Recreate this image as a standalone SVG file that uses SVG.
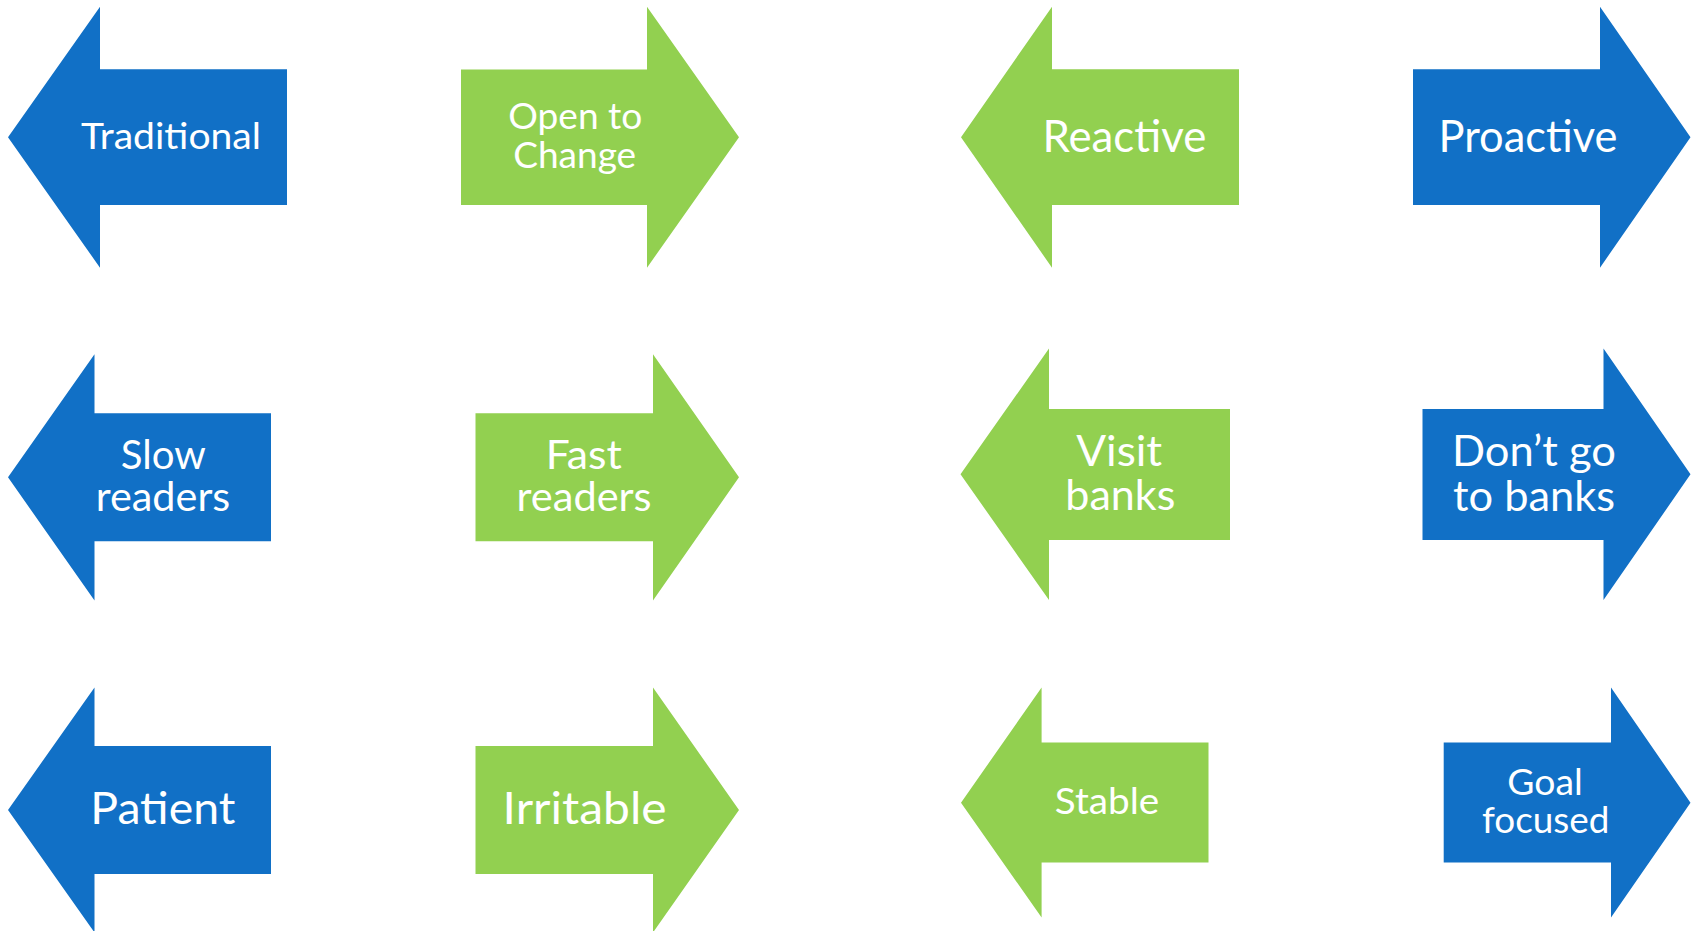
<svg xmlns="http://www.w3.org/2000/svg" width="1696" height="931" viewBox="0 0 1696 931">
<style>
.blue{fill:#1170C6}
.green{fill:#92D050}
text{font-family:Lato,"Open Sans","Liberation Sans",sans-serif;fill:#FFFFFF;text-anchor:middle}
.s37{font-size:37.5px}
.s40{font-size:40.5px}
.s43{font-size:42.8px}
.s44{font-size:44.2px}
</style>
<rect width="1696" height="931" fill="#FFFFFF"/>
<g id="traditional">
<polygon class="blue" points="8,137.3 100,6.7 100,69.3 287,69.3 287,205 100,205 100,267.7"/>
<text class="s37" x="171" y="149" textLength="180" lengthAdjust="spacingAndGlyphs">Traditional</text>
</g>
<g id="open-to-change">
<polygon class="green" points="461,69.5 647,69.5 647,6.7 739,137.3 647,267.7 647,205 461,205"/>
<text class="s37" x="575.3" y="129.3" textLength="134" lengthAdjust="spacingAndGlyphs">Open to</text>
<text class="s37" x="574.7" y="168.3" textLength="123" lengthAdjust="spacingAndGlyphs">Change</text>
</g>
<g id="reactive">
<polygon class="green" points="961,137.3 1052,6.7 1052,69.3 1239,69.3 1239,205 1052,205 1052,267.7"/>
<text class="s44" x="1124.4" y="151.7" textLength="164" lengthAdjust="spacingAndGlyphs">Reactive</text>
</g>
<g id="proactive">
<polygon class="blue" points="1413,69.3 1600,69.3 1600,6.7 1690.5,137.3 1600,267.7 1600,205 1413,205"/>
<text class="s44" x="1528" y="151.7" textLength="179" lengthAdjust="spacingAndGlyphs">Proactive</text>
</g>
<g id="slow-readers">
<polygon class="blue" points="8,477.3 94.5,354.3 94.5,413.3 271,413.3 271,541.3 94.5,541.3 94.5,600.5"/>
<text class="s40" x="163.3" y="469" textLength="85" lengthAdjust="spacingAndGlyphs">Slow</text>
<text class="s40" x="163" y="511" textLength="134.5" lengthAdjust="spacingAndGlyphs">readers</text>
</g>
<g id="fast-readers">
<polygon class="green" points="475.5,413.3 653,413.3 653,354.3 739,477.3 653,600.5 653,541.3 475.5,541.3"/>
<text class="s40" x="583.8" y="469" textLength="76" lengthAdjust="spacingAndGlyphs">Fast</text>
<text class="s40" x="584.1" y="511" textLength="135" lengthAdjust="spacingAndGlyphs">readers</text>
</g>
<g id="visit-banks">
<polygon class="green" points="960.5,474.3 1049,348.5 1049,409 1230,409 1230,540 1049,540 1049,600"/>
<text class="s43" x="1119.2" y="466" textLength="86" lengthAdjust="spacingAndGlyphs">Visit</text>
<text class="s43" x="1120.3" y="510.3" textLength="110" lengthAdjust="spacingAndGlyphs">banks</text>
</g>
<g id="dont-go-to-banks">
<polygon class="blue" points="1422.5,409 1603.5,409 1603.5,348.5 1690.5,474.3 1603.5,600 1603.5,540 1422.5,540"/>
<text class="s43" x="1534" y="466" textLength="164" lengthAdjust="spacingAndGlyphs">Don’t go</text>
<text class="s43" x="1534" y="511" textLength="162" lengthAdjust="spacingAndGlyphs">to banks</text>
</g>
<g id="patient">
<polygon class="blue" points="8,810 94.5,687.5 94.5,746 271,746 271,874 94.5,874 94.5,932.5"/>
<text class="s44" x="162.8" y="824" textLength="145" lengthAdjust="spacingAndGlyphs">Patient</text>
</g>
<g id="irritable">
<polygon class="green" points="475.5,746 653,746 653,687.5 739,810 653,932.5 653,874 475.5,874"/>
<text class="s44" x="584.6" y="824" textLength="164" lengthAdjust="spacingAndGlyphs">Irritable</text>
</g>
<g id="stable">
<polygon class="green" points="961,802.7 1041.6,687.5 1041.6,742.5 1208.5,742.5 1208.5,862.5 1041.6,862.5 1041.6,917.5"/>
<text style="font-size:36.7px" x="1107" y="814" textLength="104.5" lengthAdjust="spacingAndGlyphs">Stable</text>
</g>
<g id="goal-focused">
<polygon class="blue" points="1443.7,742.5 1611,742.5 1611,687.5 1690.5,802.7 1611,917.5 1611,862.5 1443.7,862.5"/>
<text class="s37" x="1545" y="795" textLength="75.5" lengthAdjust="spacingAndGlyphs">Goal</text>
<text class="s37" x="1545.7" y="833.3" textLength="127.5" lengthAdjust="spacingAndGlyphs">focused</text>
</g>
</svg>
